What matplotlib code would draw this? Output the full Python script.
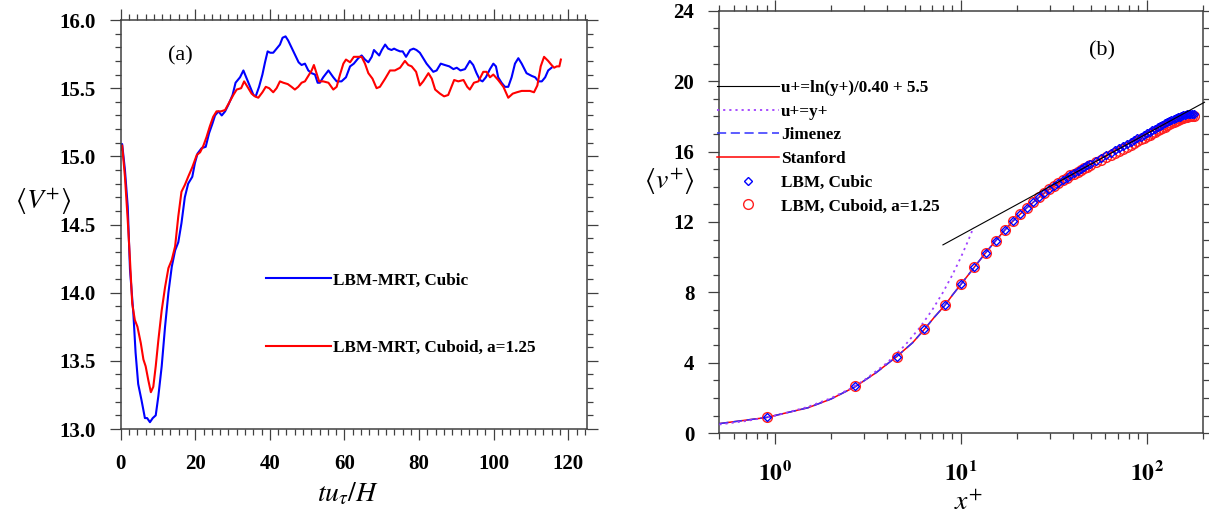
import numpy as np
import matplotlib
matplotlib.use("Agg")
import matplotlib.pyplot as plt
from matplotlib.ticker import MultipleLocator, AutoMinorLocator, LogLocator, FuncFormatter, NullFormatter, FormatStrFormatter

plt.rcParams['font.family'] = ['Liberation Serif', 'DejaVu Serif']
plt.rcParams['mathtext.fontset'] = 'stix'

# ---- panel (a): time history of <V+> ----
cubic_t = [0, 0.4, 1.15, 1.9, 2.5, 3.4, 4.0, 4.7, 5.6, 6.5, 7.1, 7.85, 8.6, 9.4, 10.1, 11.0, 11.9, 12.8, 13.7, 14.6,
           15.45, 16.3, 17.2, 18.1, 19.2, 19.9, 20.6, 21.7, 22.8, 23.7, 24.6, 25.3, 26.2, 27.1, 28.0, 28.9, 30.0, 30.8, 32.0, 32.9,
           33.8, 34.7, 35.6, 36.2, 37.1, 38.0, 38.7, 39.4, 40.1, 40.9, 41.8, 42.7, 43.4, 44.2, 44.9, 46.3, 47.7, 48.5, 49.4, 50.3,
           51.2, 52.1, 52.8, 53.4, 54.3, 55.7,
           57.0, 57.9, 59.2, 60.4, 61.5, 62.5, 63.7, 64.6, 65.5, 66.4, 67.3, 67.9, 68.6, 69.3, 70.0, 70.9, 71.7, 72.6, 73.3, 74.0,
           74.9, 75.6, 76.5, 77.6, 78.5, 79.3, 80.2, 81.1, 82.0, 82.9, 83.8, 84.7, 85.8, 86.9, 88.1, 89.2, 90.1, 91.1, 92.3, 93.6,
           94.5, 95.4, 96.3, 97.0, 97.9, 99.0, 99.9, 100.6, 101.2, 102.1, 103.0, 103.9, 104.8, 105.7, 106.6, 107.5, 108.8, 110.2,
           111.1, 112.0, 112.9, 113.8, 114.6, 115.5]
cubic_v = [15.08, 15.09, 14.9, 14.63, 14.17, 13.85, 13.56, 13.33, 13.21, 13.08, 13.08, 13.05, 13.08, 13.10, 13.24, 13.46,
           13.75, 14.0, 14.19, 14.31, 14.37, 14.51, 14.7, 14.8, 14.85, 14.95, 15.02, 15.06, 15.07, 15.17, 15.24, 15.30, 15.33,
           15.30, 15.33, 15.38, 15.45, 15.54, 15.58, 15.63, 15.57, 15.51, 15.45, 15.44, 15.51, 15.6, 15.69, 15.77, 15.76, 15.76,
           15.79, 15.82, 15.87, 15.88, 15.85, 15.77, 15.69, 15.67, 15.68, 15.63, 15.61, 15.6, 15.54, 15.54, 15.58, 15.63,
           15.58, 15.55, 15.55, 15.58, 15.66, 15.68, 15.72, 15.74, 15.71, 15.69, 15.73, 15.78, 15.76, 15.74, 15.78, 15.82,
           15.79, 15.78, 15.79, 15.78, 15.77, 15.77, 15.73, 15.78, 15.79, 15.78, 15.76, 15.72, 15.68, 15.65, 15.62, 15.63,
           15.68, 15.67, 15.66, 15.64, 15.65, 15.63, 15.64, 15.7, 15.67, 15.61, 15.56, 15.55, 15.58, 15.64, 15.68, 15.66,
           15.58, 15.54, 15.51, 15.51, 15.58, 15.68, 15.72, 15.68, 15.61, 15.59, 15.58, 15.55, 15.55, 15.58, 15.63, 15.65]

cuboid_t = [0, 0.4, 1.15, 1.9, 2.5, 3.1, 3.8, 4.5, 5.4, 6.1, 6.7, 7.4, 8.1, 8.75, 9.4, 10.1, 11.0, 11.9, 12.8, 13.7,
            14.6, 15.45, 16.3, 17.2, 18.1, 19.2, 20.4, 21.3, 22.2, 23.0, 23.9, 24.8, 25.7, 26.9, 28.0, 29.0, 30.2, 31.1, 32.3, 33.1,
            34.0, 35.1, 36.0, 36.9, 38.0, 38.9, 39.8, 40.9, 41.8, 42.7, 43.6, 44.8, 45.8, 46.7, 47.6, 48.5, 49.4, 50.3, 51.2, 51.8,
            52.5, 53.2, 54.3, 55.7,
            57.0, 57.9, 58.8, 59.7, 60.4, 61.5, 62.5, 63.7, 64.6, 65.5, 66.4, 67.5, 68.6, 69.5, 70.9, 72.2, 73.5, 74.9, 76.2, 77.1,
            78.0, 79.2, 80.2, 81.1, 82.5, 83.4, 84.3, 85.6, 86.7, 87.8, 89.4, 90.5, 91.9, 92.9, 93.6, 94.7, 95.9, 97.2, 98.1, 99.0,
            99.9, 101.2, 102.6, 103.9, 105.1, 106.2, 107.5, 108.8, 109.7, 110.8, 111.7, 112.6, 113.5, 114.6, 115.5, 116.2, 116.9,
            117.6, 118.0]
cuboid_v = [15.05, 15.08, 14.85, 14.53, 14.24, 13.92, 13.8, 13.75, 13.63, 13.51, 13.46, 13.36, 13.27, 13.31, 13.46, 13.65,
            13.87, 14.04, 14.18, 14.24, 14.34, 14.56, 14.74, 14.79, 14.85, 14.92, 15.01, 15.03, 15.08, 15.14, 15.22, 15.29,
            15.33, 15.33, 15.34, 15.39, 15.45, 15.49, 15.5, 15.55, 15.51, 15.46, 15.44, 15.43, 15.47, 15.51, 15.5, 15.47,
            15.5, 15.55, 15.54, 15.53, 15.51, 15.49, 15.51, 15.54, 15.55, 15.59, 15.63, 15.67, 15.61, 15.55, 15.55, 15.54,
            15.49, 15.51, 15.6, 15.68, 15.71, 15.69, 15.73, 15.73, 15.73, 15.68, 15.61, 15.57, 15.5, 15.51, 15.57, 15.63,
            15.63, 15.65, 15.7, 15.67, 15.66, 15.62, 15.52, 15.55, 15.61, 15.57, 15.49, 15.46, 15.44, 15.45, 15.56, 15.55,
            15.56, 15.51, 15.49, 15.54, 15.55, 15.62, 15.62, 15.58, 15.6, 15.56, 15.51, 15.43, 15.46, 15.47, 15.48, 15.48,
            15.48, 15.47, 15.52, 15.66, 15.73, 15.7, 15.67, 15.65, 15.66, 15.66, 15.71]

# ---- panel (b): mean velocity profile ----
loglaw_x = [8.0, 205.0]
loglaw_u = [10.7, 18.8]
linear_x = [0.5, 0.7, 1, 1.5, 2, 2.5, 3, 4, 5, 6, 7, 8, 9, 10, 11, 11.7]
linear_u = [0.5, 0.7, 1, 1.5, 2, 2.5, 3, 4, 5, 6, 7, 8, 9, 10, 11, 11.7]

dns_x = [0.5, 0.9, 1.5, 2.0, 2.7, 3.5, 4.5, 5.5, 6.35, 7.2, 8.2, 9.0, 10.0, 11.8, 13.6, 15.4, 17.2, 19.0, 22.6, 26.3,
         29.9, 35.3, 40.7, 49.7, 60.5, 74.9, 89.3, 100.0, 121.7, 143.3, 165.0, 180.0]
stanford_u = [0.55, 0.9, 1.45, 1.95, 2.65, 3.45, 4.35, 5.15, 5.9, 6.6, 7.27, 7.85, 8.46, 9.43, 10.26, 10.94, 11.53, 12.04,
              12.8, 13.4, 13.87, 14.38, 14.78, 15.3, 15.78, 16.31, 16.75, 17.04, 17.53, 17.9, 18.11, 18.15]
jimenez_u = [0.55, 0.9, 1.45, 1.95, 2.65, 3.45, 4.35, 5.15, 5.9, 6.6, 7.27, 7.85, 8.46, 9.43, 10.26, 10.94, 11.53, 12.04,
             12.8, 13.4, 13.87, 14.38, 14.78, 15.3, 15.78, 16.31, 16.75, 17.04, 17.53, 17.9, 18.11, 18.15]

lbm_x = [0.9, 2.7, 4.5, 6.35, 8.2, 10.0, 11.8, 13.6, 15.4, 17.2, 19.0, 20.8, 22.6, 24.4, 26.3, 28.1, 29.9, 31.7, 33.5,
         35.3, 37.1, 38.9, 40.7, 42.5, 44.3, 46.1, 47.9, 49.7, 53.3, 56.9, 60.5, 64.1, 67.7, 71.3, 74.9, 78.5, 82.1, 85.7,
         89.3, 92.9, 96.5, 100.1, 103.7, 107.3, 110.9, 114.5, 118.1, 121.7, 125.3, 128.9, 132.5, 136.1, 139.7, 143.3,
         146.9, 150.5, 154.1, 157.7, 161.3, 164.9, 168.5, 172.1, 175.7, 179.3]
lbm_cubic_u = [0.9, 2.67, 4.35, 5.9, 7.27, 8.46, 9.43, 10.26, 10.94, 11.53, 12.04, 12.44, 12.8, 13.12, 13.4, 13.65, 13.87,
               14.06, 14.23, 14.38, 14.52, 14.65, 14.78, 14.9, 15.01, 15.11, 15.21, 15.3, 15.47, 15.63, 15.78, 15.92, 16.06,
               16.19, 16.31, 16.43, 16.54, 16.65, 16.75, 16.85, 16.95, 17.04, 17.13, 17.22, 17.3, 17.38, 17.46, 17.53, 17.6,
               17.67, 17.73, 17.79, 17.85, 17.9, 17.95, 17.99, 18.03, 18.06, 18.09, 18.11, 18.13, 18.14, 18.15, 18.15]
lbm_cuboid_u = [0.9, 2.67, 4.35, 5.9, 7.27, 8.46, 9.43, 10.26, 10.94, 11.53, 12.04, 12.44, 12.8, 13.12, 13.4, 13.65, 13.87,
                14.06, 14.23, 14.38, 14.52, 14.65, 14.74, 14.85, 14.95, 15.05, 15.14, 15.22, 15.38, 15.53, 15.67, 15.8, 15.93,
                16.05, 16.17, 16.28, 16.39, 16.49, 16.59, 16.69, 16.78, 16.87, 16.96, 17.04, 17.12, 17.2, 17.28, 17.35, 17.42,
                17.49, 17.56, 17.62, 17.68, 17.74, 17.79, 17.84, 17.88, 17.92, 17.96, 17.99, 18.01, 18.03, 18.03, 18.01]

axis_col = '#404040'
leg_font = {'family': 'Liberation Serif', 'weight': 'bold', 'size': 12.3}

fig = plt.figure(figsize=(12.09, 5.16), dpi=100)
ax1 = fig.add_axes([0.0998, 0.1686, 0.3857, 0.7926])
ax2 = fig.add_axes([0.595, 0.1603, 0.4003, 0.819])

for ax in (ax1, ax2):
    for s in ax.spines.values():
        s.set_color(axis_col)
        s.set_linewidth(1.1)
    ax.tick_params(which='both', direction='out', top=True, right=True, color=axis_col, width=0.9, labelsize=15)
    ax.tick_params(which='major', length=8, pad=10)
    ax.tick_params(which='minor', length=4.5)

# panel (a)
ax1.plot(cubic_t, cubic_v, color='#0000ff', lw=1.5, label='LBM-MRT, Cubic')
ax1.plot(cuboid_t, cuboid_v, color='#ff0000', lw=1.5, label='LBM-MRT, Cuboid, a=1.25')
ax1.set_xlim(0, 125)
ax1.set_ylim(13.0, 16.0)
ax1.xaxis.set_major_locator(MultipleLocator(20))
ax1.xaxis.set_minor_locator(AutoMinorLocator(9))
ax1.yaxis.set_major_locator(MultipleLocator(0.5))
ax1.yaxis.set_minor_locator(MultipleLocator(0.1))
ax1.yaxis.set_major_formatter(FormatStrFormatter('%.1f'))
ax1.text(15.9, 15.74, '(a)', fontsize=16, ha='center', va='center')
ax1.set_xlabel(r'$tu_{\tau}/H$', fontsize=20, va='center')
ax1.xaxis.set_label_coords(0.487, -0.158)
ax1.set_ylabel(r'$\langle V^{+}\rangle$', fontsize=20, rotation=0, va='center', ha='center')
ax1.yaxis.set_label_coords(-0.165, 0.556)
ax1.legend(loc='center left', bbox_to_anchor=(0.312, 0.281), frameon=False, borderpad=0, borderaxespad=0,
           handlelength=3.8, handletextpad=0.12, labelspacing=3.0, prop=leg_font)

# panel (b)
ax2.set_xscale('log')
ax2.plot(dns_x, stanford_u, color='#ff0000', lw=1.1, label='Stanford', zorder=2)
ax2.plot(dns_x, jimenez_u, color='#3030ff', lw=1.1, ls=(0, (6, 3)), label='Jimenez', zorder=3)
ax2.plot(linear_x, linear_u, color='#a040ff', lw=1.3, ls=(0, (1.2, 2.2)), label='u+=y+', zorder=4)
ax2.plot(lbm_x, lbm_cuboid_u, ls='none', marker='o', ms=7.0, mfc='none', mec='#ff2020', mew=1.0,
         label='LBM, Cuboid, a=1.25', zorder=5)
ax2.plot(lbm_x, lbm_cubic_u, ls='none', marker='D', ms=3.6, mfc='none', mec='#0000ff', mew=1.0,
         label='LBM, Cubic', zorder=6)
ax2.plot(loglaw_x, loglaw_u, color='black', lw=0.8, label='u+=ln(y+)/0.40 + 5.5', zorder=7, clip_on=False)
ax2.set_xlim(0.5, 202)
ax2.set_ylim(0, 24)
ax2.xaxis.set_major_locator(LogLocator(base=10))
ax2.xaxis.set_minor_locator(LogLocator(base=10, subs=np.arange(2, 10) * 0.1 * 10, numticks=20))
ax2.xaxis.set_major_formatter(FuncFormatter(lambda v, p: r'$\mathbf{10^{%d}}$' % int(round(np.log10(v)))))
ax2.xaxis.set_minor_formatter(NullFormatter())
ax2.tick_params(axis='x', which='major', pad=12, labelsize=17)
ax2.yaxis.set_major_locator(MultipleLocator(4))
ax2.yaxis.set_minor_locator(MultipleLocator(1))
ax2.text(57.4, 21.7, '(b)', fontsize=16, ha='center', va='center')
ax2.set_xlabel(r'$x^{+}$', fontsize=20, va='center')
ax2.xaxis.set_label_coords(0.514, -0.165)
ax2.set_ylabel(r'$\langle v^{+}\rangle$', fontsize=20, rotation=0, va='center', ha='center')
ax2.yaxis.set_label_coords(-0.104, 0.595)

h, l = ax2.get_legend_handles_labels()
order = ['u+=ln(y+)/0.40 + 5.5', 'u+=y+', 'Jimenez', 'Stanford', 'LBM, Cubic', 'LBM, Cuboid, a=1.25']
hs = [h[l.index(name)] for name in order]
ax2.legend(hs, order, loc='center left', bbox_to_anchor=(-0.004, 0.677), frameon=False, borderpad=0,
           borderaxespad=0, handlelength=3.6, handletextpad=0.12, labelspacing=0.45, numpoints=1, prop=leg_font)

# bold tick labels (set after the ticks exist)
fig.canvas.draw()
for ax in (ax1, ax2):
    for lab in ax.get_xticklabels() + ax.get_yticklabels():
        lab.set_fontweight('bold')

fig.savefig('out.png', dpi=100)
